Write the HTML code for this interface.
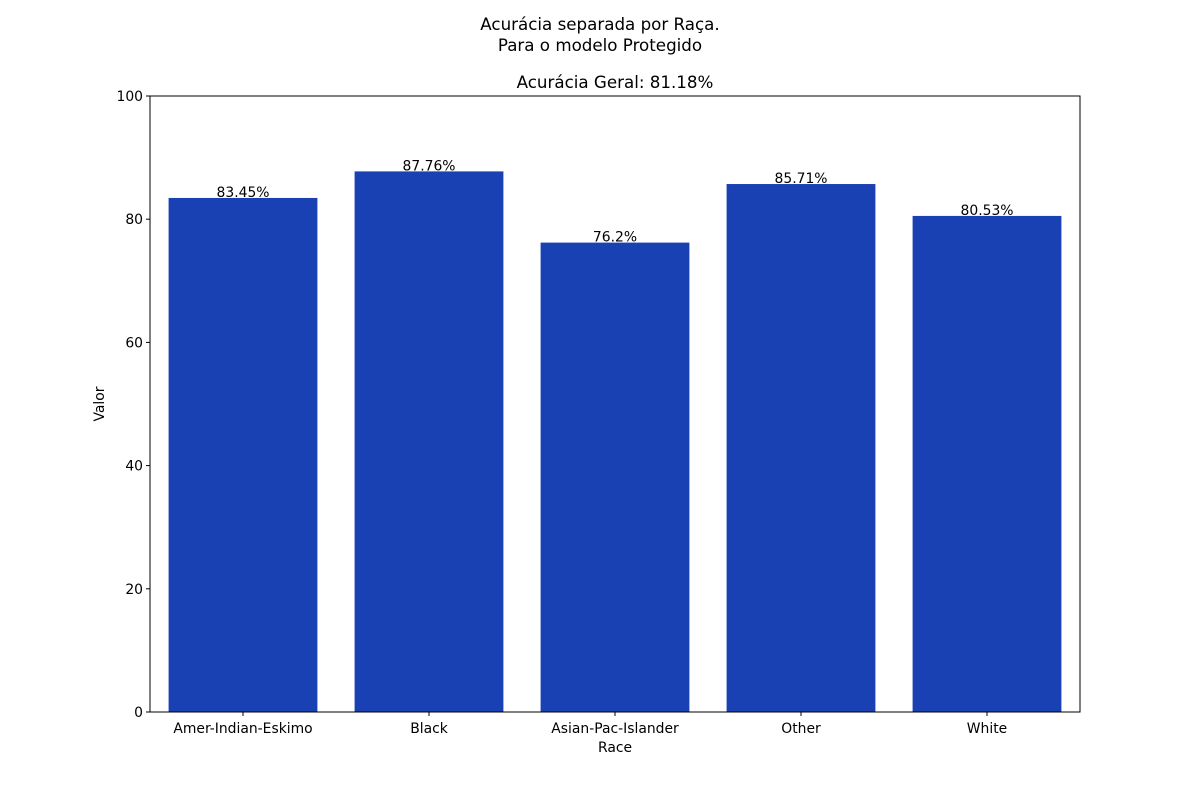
<!DOCTYPE html>
<html><head><meta charset="utf-8"><style>
body{margin:0;background:#fff;}
svg text{font-family:"DejaVu Sans","Liberation Sans",sans-serif;}
</style></head><body>
<svg id="chart" width="1200" height="800" xmlns="http://www.w3.org/2000/svg">
<rect width="1200" height="800" fill="#fff"/>
<text x="600" y="30" text-anchor="middle" font-size="16.7">Acurácia separada por Raça.</text>
<text x="600" y="51" text-anchor="middle" font-size="16.7">Para o modelo Protegido</text>
<text x="615" y="88" text-anchor="middle" font-size="16.7">Acurácia Geral: 81.18%</text>
<g id="plot"></g>
<rect x="150" y="96" width="930" height="616" fill="none" stroke="#000" stroke-width="1"/>
<text x="104" y="404" text-anchor="middle" font-size="13.9" transform="rotate(-90 104 404)">Valor</text>
<text x="615" y="752" text-anchor="middle" font-size="13.9">Race</text>
</svg>
<script>
const categories=["Amer-Indian-Eskimo","Black","Asian-Pac-Islander","Other","White"];
const values=[83.45,87.76,76.2,85.71,80.53];
const valueLabels=["83.45%","87.76%","76.2%","85.71%","80.53%"];
const yTicks=[0,20,40,60,80,100];
const L=150,R=1080,T=96,B=712,yMax=100;
const ns="http://www.w3.org/2000/svg";
const g=document.getElementById('plot');
const y=v=>B-(v/yMax)*(B-T);
const step=(R-L)/categories.length;
const x=i=>L+step*(i+0.5);
function mk(tag,attrs,text){const e=document.createElementNS(ns,tag);for(const k in attrs)e.setAttribute(k,attrs[k]);if(text!==undefined)e.textContent=text;g.appendChild(e);return e;}
categories.forEach((c,i)=>{
 const w=step*0.8;
 const r=mk('rect',{x:x(i)-w/2,y:y(values[i]),width:w,height:B-y(values[i]),fill:'#1941b3'});
 
 
 const t=mk('text',{x:x(i),y:y(values[i])-1,'text-anchor':'middle','font-size':'13.9'},valueLabels[i]);
 
 
 const tk=mk('line',{x1:x(i),x2:x(i),y1:B,y2:B+4,stroke:'#000'});
 
 
 const tl=mk('text',{x:x(i),y:B+21,'text-anchor':'middle','font-size':'13.9'},c);
 
 
});
yTicks.forEach(v=>{
 const tk=mk('line',{x1:L-4,x2:L,y1:y(v),y2:y(v),stroke:'#000'});
 
 
 const tl=mk('text',{x:L-7,y:y(v)+5,'text-anchor':'end','font-size':'13.9'},String(v));
 
 
});
</script>
</body></html>
